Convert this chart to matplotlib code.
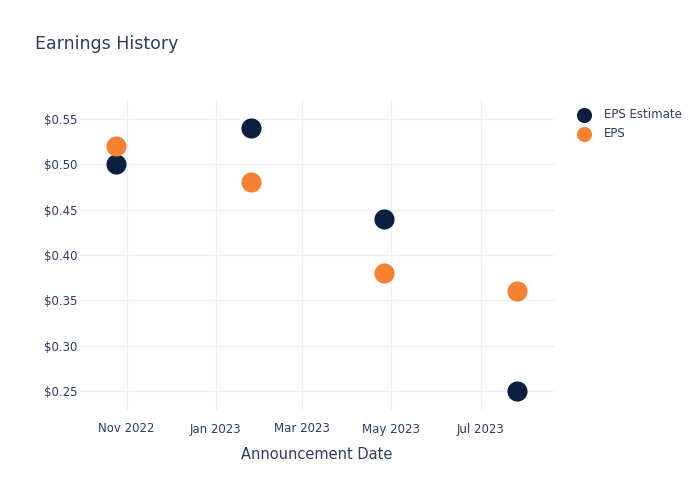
import matplotlib
matplotlib.use('Agg')
import matplotlib.pyplot as plt
import numpy as np
from datetime import datetime

# data
dates = ["2022-10-25", "2023-01-25", "2023-04-26", "2023-07-26"]
eps_estimate = [0.50, 0.54, 0.44, 0.25]
eps_actual = [0.52, 0.48, 0.38, 0.36]
tick_dates = ["2022-11-01", "2023-01-01", "2023-03-01", "2023-05-01", "2023-07-01"]
tick_labels = ["Nov 2022", "Jan 2023", "Mar 2023", "May 2023", "Jul 2023"]
y_ticks = [0.25, 0.30, 0.35, 0.40, 0.45, 0.50, 0.55]

text_color = "#2a3f5f"
grid_color = "#ebf0f8"
navy = "#0c1f3f"
orange = "#f58134"

x = [datetime.strptime(d, "%Y-%m-%d") for d in dates]
xt = [datetime.strptime(d, "%Y-%m-%d") for d in tick_dates]

fig = plt.figure(figsize=(7, 5), dpi=100)
ax = fig.add_axes([0.114, 0.18, 0.677, 0.62])

ax.scatter(x, eps_estimate, s=210, color=navy, label="EPS Estimate", zorder=3, linewidths=0)
ax.scatter(x, eps_actual, s=210, color=orange, label="EPS", zorder=4, linewidths=0)

ax.set_xlim(datetime(2022, 9, 30), datetime(2023, 8, 20))
ax.set_ylim(0.229, 0.571)
ax.set_xticks(xt)
ax.set_xticklabels(tick_labels)
ax.set_yticks(y_ticks)
ax.set_yticklabels(["$%.2f" % v for v in y_ticks])

ax.grid(True, color=grid_color, linewidth=1)
ax.set_axisbelow(True)
for sp in ax.spines.values():
    sp.set_visible(False)
ax.tick_params(length=0, labelsize=8.5, labelcolor=text_color)
ax.tick_params(axis="x", pad=9)
ax.tick_params(axis="y", pad=2)

ax.set_xlabel("Announcement Date", fontsize=10.5, color=text_color, labelpad=8)
fig.text(0.05, 0.912, "Earnings History", fontsize=12.5, color=text_color, va="center")

leg = ax.legend(loc="upper left", bbox_to_anchor=(0.81, 0.794), bbox_transform=fig.transFigure,
                frameon=False, fontsize=8.5, labelcolor=text_color, handletextpad=0.7,
                labelspacing=0.55, borderaxespad=0, markerscale=0.75)

fig.savefig("out.png", dpi=100)
